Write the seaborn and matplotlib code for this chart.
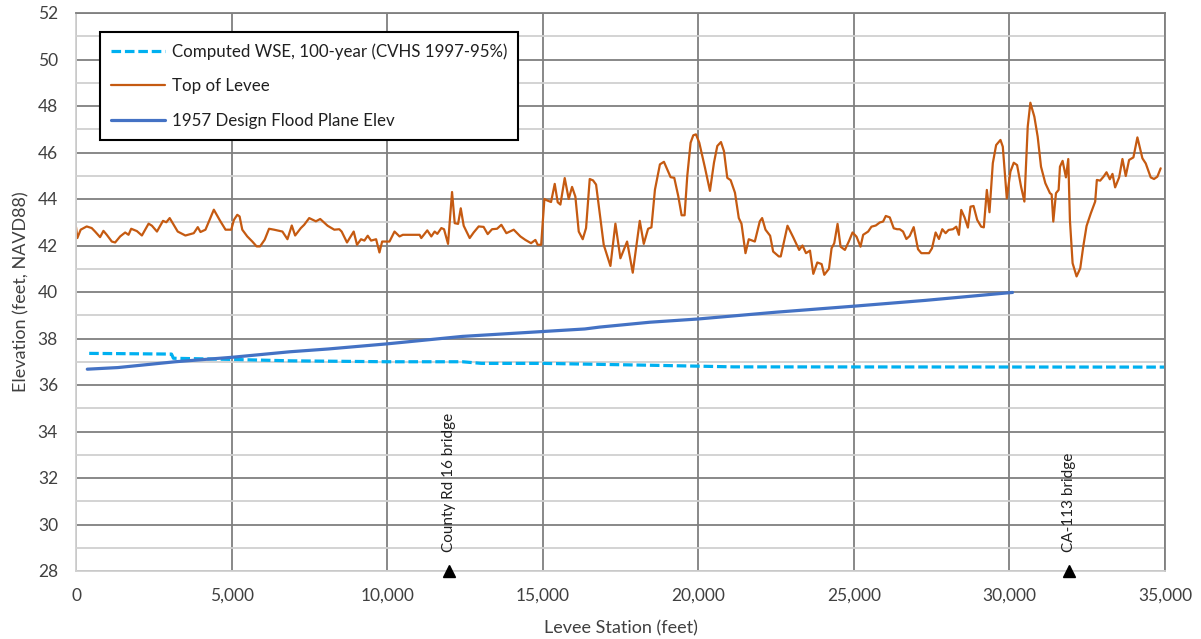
import numpy as np
import pandas as pd
from matplotlib import pyplot as plt
from matplotlib.ticker import MultipleLocator, FuncFormatter
import seaborn as sns

# Top of levee profile (station ft, elevation ft)
levee_sta = [0, 43, 150, 344, 505, 613, 774, 882, 989, 1151, 1258, 1419, 1581, 1688, 1774, 1957,
             2118, 2333, 2441, 2602, 2796, 2903, 3011, 3269, 3516, 3785, 3914, 4000, 4161, 4430,
             4624, 4806, 4989, 5075, 5183, 5258, 5344, 5505, 5667, 5806, 5914, 6065, 6204, 6366,
             6634, 6796, 6935, 7043, 7226, 7333, 7495, 7710, 7849, 8086, 8301, 8462, 8538, 8710,
             8925, 9032, 9161, 9269, 9376, 9484, 9645, 9753, 9839, 9968, 10075, 10237, 10398,
             10505, 11043, 11097, 11290, 11419, 11527, 11613, 11742, 11828, 11957, 12086, 12172,
             12280, 12366, 12460, 12653, 12781, 12942, 13100, 13232, 13371, 13532, 13671, 13832,
             14068, 14282, 14443, 14625, 14764, 14839, 14950, 15054, 15139, 15268, 15386, 15482,
             15568, 15707, 15836, 15943, 16050, 16158, 16286, 16393, 16511, 16618, 16715, 16961,
             17176, 17336, 17497, 17712, 17894, 18119, 18248, 18387, 18494, 18607, 18767, 18896,
             19003, 19110, 19228, 19357, 19464, 19560, 19646, 19753, 19839, 19925, 20032, 20214,
             20375, 20504, 20611, 20729, 20825, 20932, 21040, 21179, 21302, 21388, 21517, 21623,
             21817, 21977, 22052, 22160, 22309, 22406, 22588, 22650, 22867, 23049, 23242, 23349,
             23462, 23590, 23697, 23825, 23964, 24049, 24200, 24284, 24370, 24476, 24573, 24712,
             24850, 24957, 25085, 25214, 25299, 25459, 25566, 25705, 25833, 25940, 26026, 26154,
             26282, 26389, 26474, 26581, 26688, 26795, 26923, 27062, 27169, 27415, 27511, 27628,
             27735, 27842, 27949, 28045, 28184, 28291, 28376, 28451, 28558, 28665, 28750, 28846,
             28964, 29092, 29177, 29274, 29359, 29466, 29573, 29712, 29787, 29915, 30032, 30139,
             30246, 30374, 30481, 30588, 30673, 30801, 30908, 31015, 31154, 31303, 31357, 31410,
             31496, 31581, 31624, 31709, 31816, 31891, 31944, 32030, 32158, 32276, 32372, 32479,
             32617, 32756, 32810, 32917, 33024, 33120, 33227, 33312, 33397, 33526, 33632, 33739,
             33846, 33985, 34113, 34274, 34381, 34541, 34647, 34754, 34861]
levee_elev = [42.79, 42.32, 42.68, 42.82, 42.75, 42.6, 42.36, 42.63, 42.46, 42.17, 42.13, 42.39,
              42.56, 42.46, 42.72, 42.62, 42.43, 42.94, 42.85, 42.6, 43.06, 43.0, 43.18, 42.6,
              42.43, 42.53, 42.79, 42.58, 42.68, 43.54, 43.08, 42.68, 42.68, 43.1, 43.32, 43.25,
              42.68, 42.39, 42.17, 41.96, 41.96, 42.25, 42.72, 42.68, 42.6, 42.27, 42.86, 42.43,
              42.75, 42.89, 43.18, 43.04, 43.14, 42.85, 42.68, 42.7, 42.6, 42.13, 42.6, 42.03,
              42.27, 42.21, 42.42, 42.21, 42.27, 41.7, 42.17, 42.17, 42.17, 42.6, 42.39, 42.46,
              42.46, 42.32, 42.65, 42.39, 42.6, 42.5, 42.75, 42.7, 42.07, 44.3, 42.96, 42.93,
              43.6, 42.85, 42.32, 42.56, 42.82, 42.8, 42.49, 42.7, 42.72, 42.89, 42.53, 42.68,
              42.39, 42.24, 42.1, 42.24, 42.03, 42.03, 44.0, 43.94, 43.87, 44.65, 43.86, 43.76,
              44.9, 44.0, 44.52, 44.1, 42.6, 42.27, 42.75, 44.86, 44.8, 44.62, 42.03, 41.12,
              42.94, 41.45, 42.17, 40.83, 43.06, 42.07, 42.72, 42.78, 44.4, 45.49, 45.6, 45.27,
              44.94, 44.91, 44.12, 43.3, 43.3, 44.99, 46.42, 46.74, 46.78, 46.42, 45.35, 44.35,
              45.56, 46.28, 46.45, 46.06, 44.91, 44.81, 44.27, 43.18, 42.94, 41.67, 42.27, 42.17,
              43.04, 43.18, 42.68, 42.42, 41.74, 41.53, 41.53, 42.85, 42.36, 41.81, 42.0, 41.67,
              41.78, 40.78, 41.27, 41.2, 40.74, 41.0, 41.88, 42.1, 42.93, 41.95, 41.81, 42.21,
              42.56, 42.38, 41.95, 42.46, 42.6, 42.81, 42.86, 42.99, 43.03, 43.27, 43.21, 42.74,
              42.7, 42.7, 42.6, 42.28, 42.41, 42.79, 41.84, 41.67, 41.67, 41.88, 42.56, 42.28,
              42.7, 42.53, 42.67, 42.7, 42.81, 42.46, 43.53, 43.21, 42.77, 43.67, 43.7, 43.1,
              42.81, 42.78, 44.39, 43.43, 45.54, 46.32, 46.54, 46.25, 44.03, 45.18, 45.56, 45.46,
              44.53, 43.89, 47.11, 48.14, 47.54, 46.68, 45.39, 44.68, 44.25, 44.2, 43.03, 44.25,
              44.39, 45.39, 45.64, 44.93, 45.72, 43.1, 41.24, 40.67, 41.02, 41.95, 42.84, 43.39,
              43.89, 44.82, 44.79, 44.96, 45.15, 44.85, 45.08, 44.5, 44.93, 45.72, 44.99, 45.68,
              45.79, 46.65, 45.75, 45.53, 44.93, 44.86, 44.96, 45.32]

# 1957 design flood plane
design_sta = [363, 1347, 3192, 5000, 6882, 8112, 10000, 12417, 15000, 16353, 16823, 18444,
              20000, 22488, 25000, 27303, 30000, 30100]
design_elev = [36.68, 36.75, 37.0, 37.19, 37.43, 37.55, 37.77, 38.09, 38.3, 38.41, 38.49, 38.7,
               38.84, 39.13, 39.39, 39.64, 39.97, 39.98]

# Computed WSE, 100-year
wse_sta = [424, 3069, 3131, 5000, 6882, 10000, 12417, 13032, 15000, 18444, 20000, 21133, 35000]
wse_elev = [37.36, 37.33, 37.15, 37.1, 37.04, 37.0, 37.0, 36.93, 36.93, 36.85, 36.81, 36.78, 36.77]

# bridges
bridge_sta = [12000, 31900]
bridge_names = ["County Rd 16 bridge", "CA-113 bridge"]

levee = pd.DataFrame({'sta': levee_sta, 'elev': levee_elev})
design = pd.DataFrame({'sta': design_sta, 'elev': design_elev})
wse = pd.DataFrame({'sta': wse_sta, 'elev': wse_elev})

sns.set_style("white")
plt.rcParams['font.family'] = ['Lato', 'DejaVu Sans']

fig = plt.figure(figsize=(12.01, 6.39), dpi=100)
ax = fig.add_axes([76 / 1201, 1 - 571 / 639, (1165 - 76) / 1201, (571 - 13) / 639])

sns.lineplot(data=wse, x='sta', y='elev', ax=ax, color='#00B0F0', linewidth=2.3,
             label='Computed WSE, 100-year (CVHS 1997-95%)', dashes=False)
ax.lines[-1].set_dashes((3.0, 1.2))
sns.lineplot(data=levee, x='sta', y='elev', ax=ax, color='#C55A11', linewidth=1.6,
             label='Top of Levee')
sns.lineplot(data=design, x='sta', y='elev', ax=ax, color='#4472C4', linewidth=2.3,
             label='1957 Design Flood Plane Elev')

# bridge markers
ax.plot(bridge_sta, [28, 28], '^', color='black', markersize=8, clip_on=False, zorder=5)
for s, name in zip(bridge_sta, bridge_names):
    ax.text(s, 28.8, name, rotation=90, ha='center', va='bottom', fontsize=11, color='#202020')

ax.set_xlim(0, 35000)
ax.set_ylim(28, 52)
ax.xaxis.set_major_locator(MultipleLocator(5000))
ax.yaxis.set_major_locator(MultipleLocator(2))
ax.yaxis.set_minor_locator(MultipleLocator(1))
ax.xaxis.set_major_formatter(FuncFormatter(lambda v, p: f"{int(v):,}"))
ax.grid(which='major', color='#7f7f7f', linewidth=1.3)
ax.grid(which='minor', axis='y', color='#d0d0d0', linewidth=1.3)
ax.set_axisbelow(True)
ax.tick_params(axis='both', which='both', length=0, labelsize=12.5, colors='#404040')
ax.tick_params(axis='x', pad=12)
ax.tick_params(axis='y', pad=13)

for side in ['left', 'bottom']:
    ax.spines[side].set_color('#d0d0d0')
    ax.spines[side].set_linewidth(1.3)
ax.spines['right'].set_color('#7f7f7f')
ax.spines['right'].set_linewidth(1.3)
ax.spines['top'].set_color('#7f7f7f')
ax.spines['top'].set_linewidth(1.3)

ax.set_xlabel('Levee Station (feet)', fontsize=13, color='#404040', labelpad=12)
ax.set_ylabel('Elevation (feet, NAVD88)', fontsize=13, color='#404040', labelpad=6)

leg = ax.legend(loc='upper left', bbox_to_anchor=(24 / 1089, 1 - 19 / 558), borderaxespad=0,
                fontsize=12.2, frameon=True, fancybox=False, framealpha=1, edgecolor='black',
                handlelength=3.2, borderpad=0.65, labelspacing=1.1, handletextpad=0.4)
leg.get_frame().set_linewidth(1.5)
for t in leg.get_texts():
    t.set_color('#202020')

fig.savefig('out.png', dpi=100)
